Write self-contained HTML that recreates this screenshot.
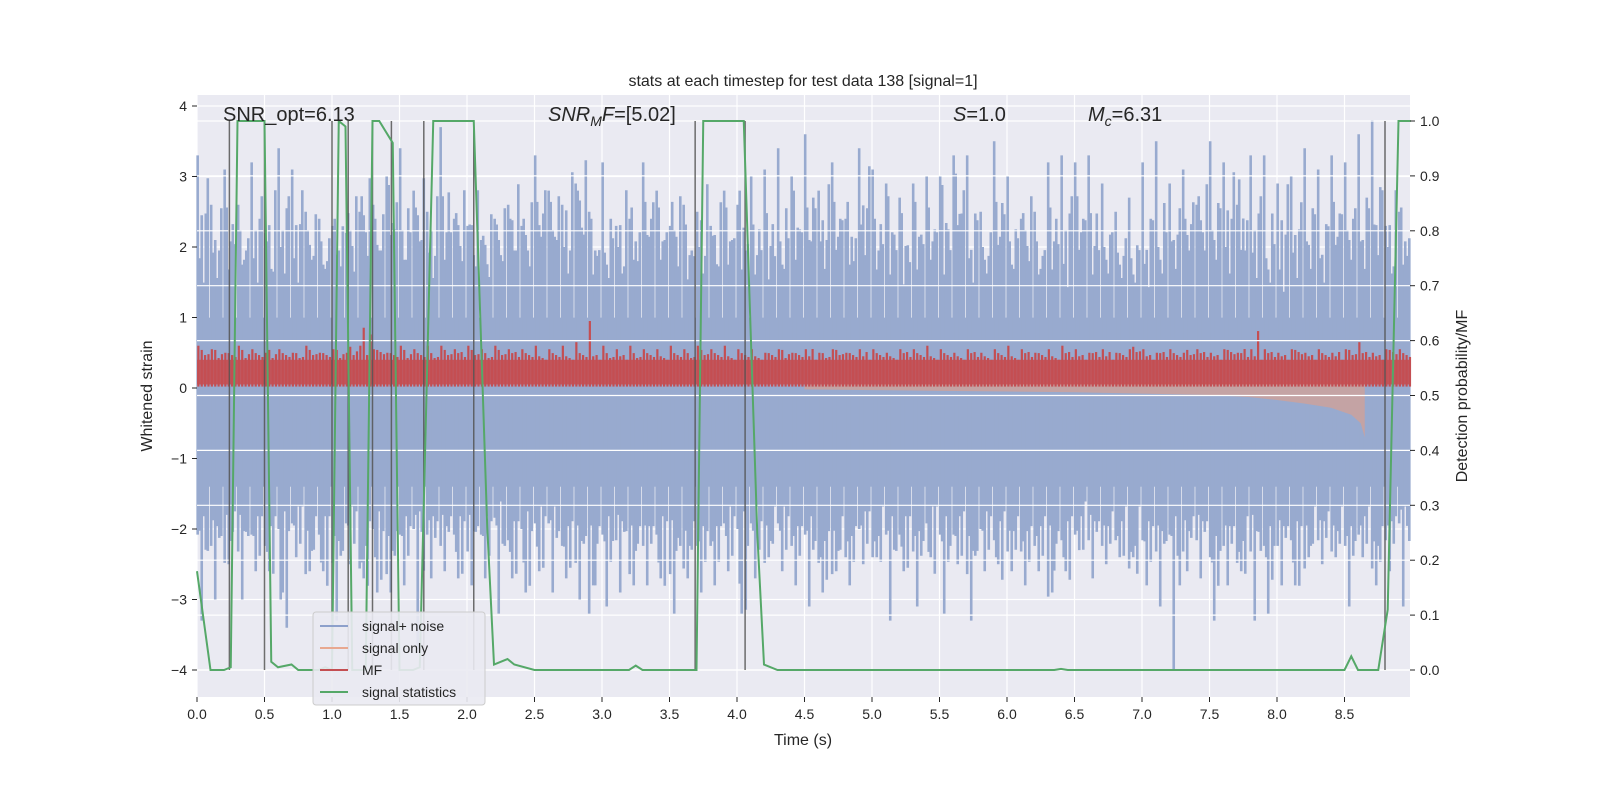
<!DOCTYPE html>
<html><head><meta charset="utf-8"><style>
body{margin:0;background:#fff}
svg text{font-family:"Liberation Sans","DejaVu Sans",sans-serif;fill:#262626}
</style></head><body>
<svg id="c" width="1600" height="800" xmlns="http://www.w3.org/2000/svg"></svg>
<script>
const times=[0,0.1,0.2,0.3,0.4,0.5,0.6,0.7,0.8,0.9,1,1.1,1.2,1.3,1.4,1.5,1.6,1.7,1.8,1.9,2,2.1,2.2,2.3,2.4,2.5,2.6,2.7,2.8,2.9,3,3.1,3.2,3.3,3.4,3.5,3.6,3.7,3.8,3.9,4,4.1,4.2,4.3,4.4,4.5,4.6,4.7,4.8,4.9,5,5.1,5.2,5.3,5.4,5.5,5.6,5.7,5.8,5.9,6,6.1,6.2,6.3,6.4,6.5,6.6,6.7,6.8,6.9,7,7.1,7.2,7.3,7.4,7.5,7.6,7.7,7.8,7.9,8,8.1,8.2,8.3,8.4,8.5,8.6,8.7,8.8,8.9];
const noiseUpper=[3.3,2.6,3.1,2.6,3.2,2.2,3.4,3.1,2.5,2.4,2.3,2.2,2.5,2.6,3.0,3.4,2.8,2.5,3.7,2.4,2.3,2.1,2.4,2.6,2.3,3.3,2.8,2.6,2.9,2.5,3.2,2.3,2.4,3.2,2.8,2.3,2.6,2.5,2.3,2.8,2.6,3.0,3.1,3.4,3.0,3.6,2.8,3.2,2.4,3.4,3.1,2.9,2.7,2.9,3.0,3.0,3.3,3.3,2.5,3.5,3.0,2.4,2.5,3.2,3.3,3.2,3.3,2.9,2.5,2.7,3.2,3.5,2.9,3.1,2.6,3.5,3.2,2.6,3.3,3.3,2.9,3.0,3.4,3.1,3.3,3.2,3.6,3.8,2.3,2.5];
const noiseLower=[-2.6,-2.8,-3.1,-2.9,-2.6,-2.8,-2.5,-2.4,-3.3,-2.6,-3.1,-2.4,-3.2,-2.5,-3.3,-2.6,-2.5,-2.6,-2.8,-2.6,-2.9,-2.6,-2.3,-2.7,-2.5,-2.4,-2.4,-2.8,-3.1,-4.0,-2.6,-2.7,-3.3,-2.8,-2.6,-3.3,-3.2,-2.8,-2.8,-2.4,-2.5,-2.4,-3.1,-2.4,-2.8,-2.6,-3.1,-3.3,-3.0,-2.5,-3.0,-2.6,-2.6,-2.9,-2.4,-2.6,-2.6,-3.3,-2.5,-2.7,-2.9,-2.9,-2.8,-3.7,-2.7,-2.6,-2.7,-2.8,-2.7,-3.2,-2.7,-2.9,-2.6,-2.9,-2.7,-3.0,-2.8,-3.1,-2.9,-2.8,-2.8,-2.7,-3.2,-2.7,-2.9,-2.8,-2.6,-3.2,-2.7,-2.4];
const mfUpper=[0.6,0.55,0.5,0.6,0.55,0.5,0.55,0.5,0.6,0.5,0.55,0.5,0.6,0.55,0.5,0.6,0.55,0.6,0.6,0.55,0.6,0.55,0.6,0.55,0.55,0.6,0.55,0.6,0.65,0.95,0.6,0.55,0.6,0.55,0.55,0.6,0.55,0.6,0.55,0.6,0.55,0.55,0.5,0.55,0.5,0.55,0.5,0.55,0.5,0.55,0.55,0.5,0.55,0.55,0.6,0.55,0.5,0.55,0.5,0.55,0.6,0.55,0.5,0.55,0.6,0.55,0.5,0.55,0.5,0.55,0.55,0.5,0.55,0.5,0.55,0.5,0.55,0.5,0.55,0.55,0.5,0.55,0.5,0.55,0.5,0.55,0.65,0.5,0.55,0.55];
const sigT=[4.5,5.0,5.5,6.0,6.5,7.0,7.5,7.8,8.0,8.2,8.4,8.55,8.62,8.65];
const sigLow=[-0.02,-0.03,-0.04,-0.05,-0.06,-0.08,-0.1,-0.13,-0.17,-0.22,-0.28,-0.38,-0.5,-0.7];
const statT=[0,0.1,0.2,0.25,0.3,0.5,0.55,0.6,0.7,0.75,0.9,0.95,1.0,1.05,1.1,1.15,1.2,1.25,1.3,1.35,1.45,1.5,1.6,1.65,1.75,2.05,2.15,2.2,2.3,2.35,2.5,3.2,3.25,3.3,3.7,3.75,4.05,4.15,4.2,4.3,6.35,6.4,6.45,8.5,8.55,8.6,8.75,8.82,8.9,8.99];
const statP=[0.18,0,0,0.005,1.0,1.0,0.015,0.005,0.01,0,0,0.005,0,1.0,0.99,0,0,0,1.0,1.0,0.96,0,0,0.005,1.0,1.0,0.26,0.01,0.02,0.01,0,0,0.008,0,0,1.0,1.0,0.25,0.01,0,0,0.002,0,0,0.025,0,0,0.11,1.0,1.0];
const detT=[0.24,0.5,1.0,1.12,1.3,1.44,1.68,2.05,3.69,4.06,8.8];
const xTicks=[0,0.5,1,1.5,2,2.5,3,3.5,4,4.5,5,5.5,6,6.5,7,7.5,8,8.5];
const yTicks=[-4,-3,-2,-1,0,1,2,3,4];
const pTicks=[0,0.1,0.2,0.3,0.4,0.5,0.6,0.7,0.8,0.9,1.0];

const L=197,R=1410,T=95,B=697;
const X=t=>L+t*135;
const Y=v=>388-v*70.5;
const P=p=>670-p*549;
const svg=document.getElementById('c');
const NS='http://www.w3.org/2000/svg';
function mk(tag,at,parent){const e=document.createElementNS(NS,tag);for(const k in at)e.setAttribute(k,at[k]);(parent||svg).appendChild(e);return e;}
function txt(s,x,y,at,parent){const e=mk('text',Object.assign({x:x,y:y},at),parent);e.textContent=s;return e;}

let bg=mk('rect',{x:L,y:T,width:R-L,height:B-T,fill:'#EAEAF2'});


const grid=mk('g',{stroke:'#fff','stroke-width':1.2});


xTicks.forEach(t=>mk('line',{x1:X(t),x2:X(t),y1:T,y2:B},grid));
yTicks.forEach(v=>mk('line',{x1:L,x2:R,y1:Y(v),y2:Y(v)},grid));

// noise
const ng=mk('g',{});


mk('rect',{x:L,y:Y(1.0),width:R-L,height:Y(-1.4)-Y(1.0),fill:'#98AACF'},ng);
const n=times.length;
times.forEach((t,i)=>{
  const u=noiseUpper[i], d=noiseLower[i];
  const u2=noiseUpper[(i+31)%n], u3=noiseUpper[(i+59)%n];
  const d2=noiseLower[(i+23)%n], d3=noiseLower[(i+47)%n];
  const segs=[[0.005,u,d*0.8],[0.02,u2*0.8,d2*0.75],[0.035,u3*0.7,d3],[0.05,u2*0.65,d*0.7],[0.065,u*0.75,d2*0.85],[0.08,u3*0.85,d3*0.7]];
  segs.forEach(s=>{
    if(t+s[0]>8.99)return;
    mk('line',{x1:X(t+s[0]),x2:X(t+s[0]),y1:Y(s[1]),y2:Y(s[2]),stroke:'#98AACF','stroke-width':2.6},ng);
  });
});
// signal only
let sp='M'+X(sigT[0])+','+Y(0.05);
sigT.forEach((t,i)=>{sp+=' L'+X(t)+','+Y(sigLow[i]);});
sp+=' L'+X(8.65)+','+Y(0.1)+' Z';
let so=mk('path',{d:sp,fill:'#C9A29E',opacity:0.9});


// MF
const mg=mk('g',{});


mk('rect',{x:L,y:Y(0.4),width:R-L,height:Y(0.05)-Y(0.4),fill:'#C44E52',opacity:0.9},mg);
times.forEach((t,i)=>{
  const a=mfUpper[i], b=mfUpper[(i+17)%n], c=mfUpper[(i+41)%n];
  [[0.01,a],[0.035,b*0.9],[0.06,c*0.85],[0.085,b*0.8]].forEach(s=>{
    if(t+s[0]>8.99)return;
    mk('line',{x1:X(t+s[0]),x2:X(t+s[0]),y1:Y(s[1]),y2:Y(0.02),stroke:'#C44E52','stroke-width':2.2},mg);
  });
});
// right-axis grid on top
const g2=mk('g',{stroke:'#fff','stroke-width':1.2});


pTicks.forEach(p=>mk('line',{x1:L,x2:R,y1:P(p),y2:P(p)},g2));
// detection lines
const dg=mk('g',{stroke:'#555','stroke-width':1.5,opacity:0.85});


detT.forEach(t=>mk('line',{x1:X(t),x2:X(t),y1:P(0),y2:P(1)},dg));
// stat line
let sd=statT.map((t,i)=>(i?'L':'M')+X(t)+','+P(statP[i])).join(' ');
let sl=mk('path',{d:sd,fill:'none',stroke:'#55A868','stroke-width':2});



// axes ticks & labels
const ax=mk('g',{'font-size':14});


xTicks.forEach(t=>{mk('line',{x1:X(t),x2:X(t),y1:B,y2:B+5,stroke:'#262626'},ax);txt(t.toFixed(1),X(t),B+22,{'text-anchor':'middle'},ax);});
yTicks.forEach(v=>{mk('line',{x1:L-5,x2:L,y1:Y(v),y2:Y(v),stroke:'#262626'},ax);txt(v<0?'\u2212'+(-v):String(v),L-10,Y(v)+5,{'text-anchor':'end'},ax);});
pTicks.forEach(p=>{mk('line',{x1:R,x2:R+5,y1:P(p),y2:P(p),stroke:'#262626'},ax);txt(p.toFixed(1),R+10,P(p)+5,{},ax);});
txt('Time (s)',803,745,{'text-anchor':'middle','font-size':16,});
txt('Whitened strain',152,396,{'text-anchor':'middle','font-size':16,transform:'rotate(-90 152 396)',});
txt('Detection probability/MF',1467,396,{'text-anchor':'middle','font-size':16,transform:'rotate(-90 1467 396)',});
txt('stats at each timestep for test data 138 [signal=1]',803,86,{'text-anchor':'middle','font-size':16,});
// annotations
txt('SNR_opt=6.13',223,121,{'font-size':20,});
const a2=mk('text',{x:548,y:121,'font-size':20});


a2.innerHTML='<tspan font-style="italic">SNR</tspan><tspan font-style="italic" font-size="14" dy="5">M</tspan><tspan font-style="italic" dy="-5">F</tspan>=[5.02]';
const a3=mk('text',{x:953,y:121,'font-size':20});


a3.innerHTML='<tspan font-style="italic">S</tspan>=1.0';
const a4=mk('text',{x:1088,y:121,'font-size':20});


a4.innerHTML='<tspan font-style="italic">M</tspan><tspan font-style="italic" font-size="14" dy="5">c</tspan><tspan dy="-5">=6.31</tspan>';
// legend
const lg=mk('g',{'font-size':14});


mk('rect',{x:313,y:612,width:172,height:93,rx:3,fill:'#EAEAF2','fill-opacity':0.9,stroke:'#ccc'},lg);
[['signal+ noise','#8DA0CB'],['signal only','#E8A890'],['MF','#C44E52'],['signal statistics','#55A868']].forEach((e,i)=>{
  const y=626+i*22;
  const it=mk('g',{},lg);
  
  
  mk('line',{x1:320,x2:348,y1:y,y2:y,stroke:e[1],'stroke-width':2},it);
  txt(e[0],362,y+5,{},it);
});
</script>
</body></html>
